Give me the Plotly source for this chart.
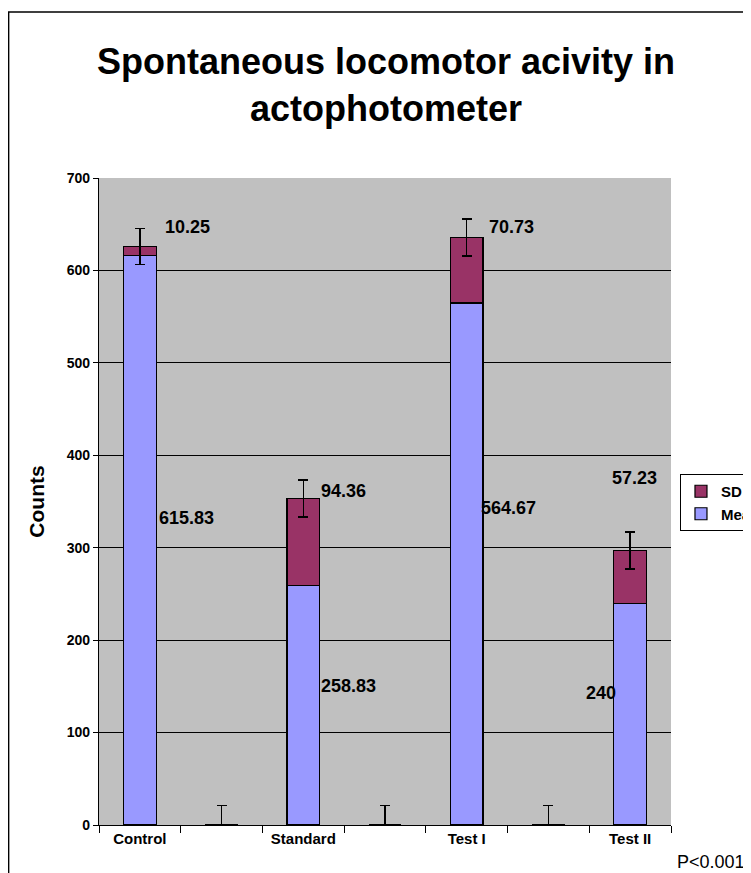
import plotly.graph_objects as go

categories = ["Control", " ", "Standard", "  ", "Test I", "   ", "Test II"]
mean_vals = [615.83, 0, 258.83, 0, 564.67, 0, 240]
sd_vals = [10.25, 0, 94.36, 0, 70.73, 0, 57.23]
err_vals = [19.5, 21, 20, 21, 20, 21, 20]
y_ticks = [0, 100, 200, 300, 400, 500, 600, 700]

# label placement (category index, y position) for the data labels
sd_label_pos = [(0.577, 647), (2.49, 361), (4.55, 647), (6.05, 375)]
mean_label_pos = [(0.565, 332), (2.55, 150), (4.51, 343), (5.64, 143)]
bar_idx = [0, 2, 4, 6]

FONT = "Liberation Sans"
BOLD = dict(family=FONT, weight="bold", color="black")

fig = go.Figure()
fig.add_trace(go.Bar(
    x=categories, y=mean_vals, name="Mean",
    marker=dict(color="#9999FF", line=dict(color="black", width=1.2)),
))
fig.add_trace(go.Bar(
    x=categories, y=sd_vals, name="SD",
    marker=dict(color="#993366", line=dict(color="black", width=1.2)),
    error_y=dict(type="data", array=err_vals, visible=True,
                 color="black", thickness=1.5, width=5),
))

ann = []
for k, i in enumerate(bar_idx):
    dx, yy = sd_label_pos[k]
    ann.append(dict(x=dx, y=yy, xref="x", yref="y", text=f"{sd_vals[i]:g}",
                    showarrow=False, font=dict(size=18, **BOLD)))
    dx, yy = mean_label_pos[k]
    ann.append(dict(x=dx, y=yy, xref="x", yref="y", text=f"{mean_vals[i]:g}",
                    showarrow=False, font=dict(size=18, **BOLD)))
ann.append(dict(x=1.133, y=-0.057, xref="paper", yref="paper", text="P<0.001",
                showarrow=False, xanchor="right", yanchor="middle",
                font=dict(size=18, family=FONT, color="black")))

fig.update_layout(
    width=743, height=865,
    margin=dict(l=91, r=80, t=170, b=48, autoexpand=False),
    paper_bgcolor="white", plot_bgcolor="#C0C0C0",
    barmode="stack", bargap=0.6,
    title=dict(text="Spontaneous locomotor acivity in<br>actophotometer",
               x=0.5087, xanchor="center", y=0.9234, yanchor="top",
               font=dict(size=36, **BOLD)),
    xaxis=dict(type="category", tickson="boundaries", ticks="outside",
               ticklen=7, tickcolor="black", tickwidth=1.2,
               showline=True, linecolor="black", linewidth=1.2,
               showgrid=False, tickfont=dict(size=15, **BOLD)),
    yaxis=dict(range=[0, 700], tickvals=y_ticks, ticks="outside", ticklen=5,
               tickcolor="black", tickwidth=1.2,
               showline=True, linecolor="black", linewidth=1.2,
               showgrid=True, gridcolor="black", gridwidth=1,
               zeroline=False, tickfont=dict(size=14, **BOLD),
               title=dict(text="Counts", font=dict(size=21, **BOLD), standoff=16)),
    legend=dict(x=1.0157, y=0.5425, xanchor="left", yanchor="top",
                bgcolor="white", bordercolor="black", borderwidth=1,
                font=dict(size=15, **BOLD), traceorder="reversed",
                itemwidth=30, tracegroupgap=0),
    annotations=ann,
    shapes=[dict(type="rect", xref="paper", yref="paper",
                 x0=-0.158, x1=1.3, y0=-0.2, y1=1.2566,
                 line=dict(color="black", width=1.5), layer="below")],
    showlegend=True,
)

fig.write_html("out.html")
